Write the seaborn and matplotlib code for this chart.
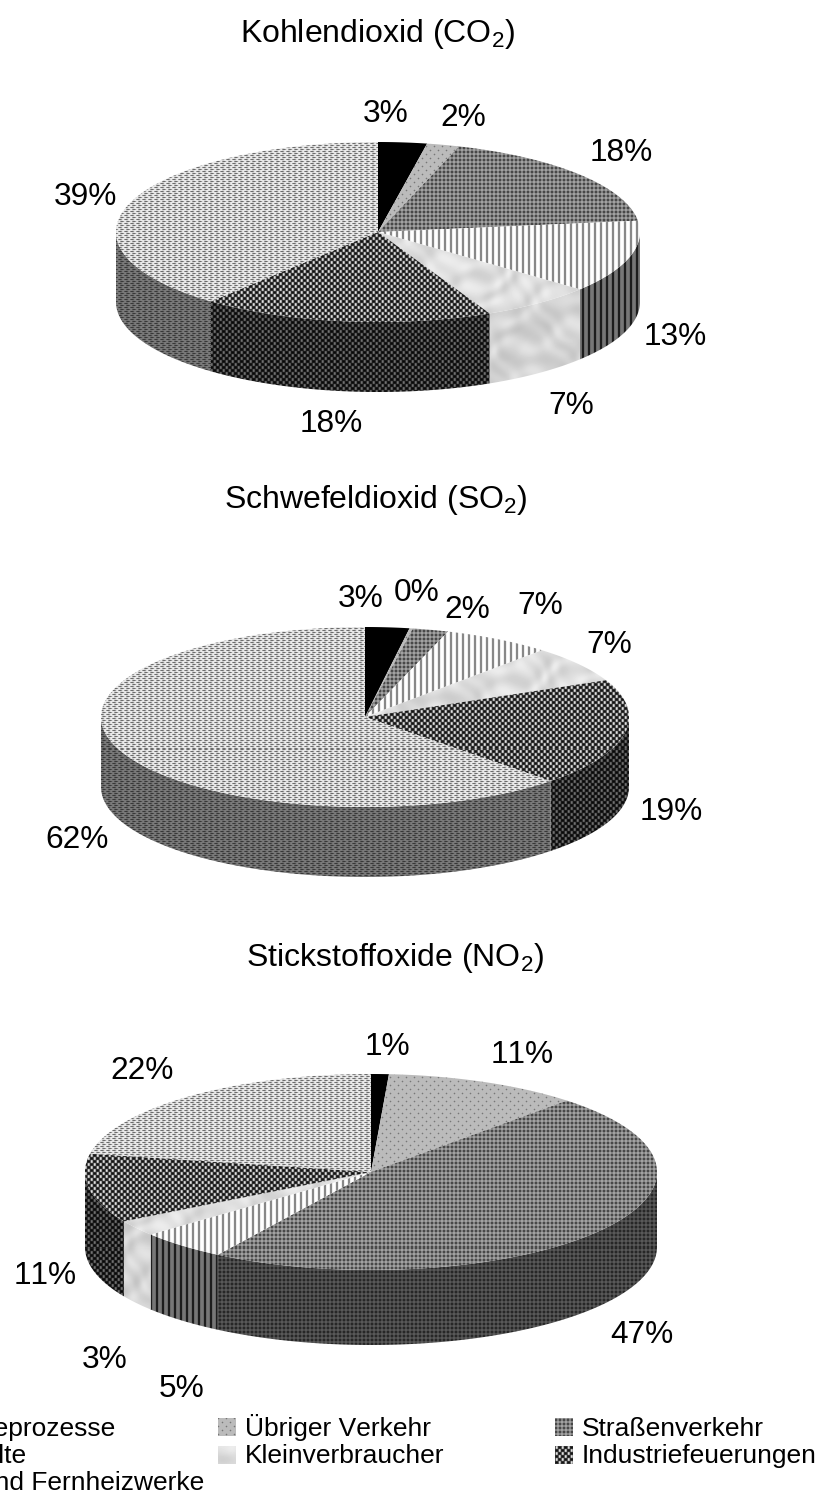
import numpy as np
import pandas as pd
import seaborn as sns
import matplotlib.pyplot as plt
from matplotlib.patches import Polygon

W, H = 823, 1497
sns.set_theme(style='white')
plt.rcParams['font.family'] = ['Liberation Sans', 'DejaVu Sans']
plt.rcParams['mathtext.default'] = 'regular'
plt.rcParams['text.kerning_factor'] = 6

sources = ['Industrieprozesse', 'Übriger Verkehr', 'Straßenverkehr', 'Haushalte',
           'Kleinverbraucher', 'Industriefeuerungen', 'Kraft- und Fernheizwerke']
gases = ['Kohlendioxid (CO$_2$)', 'Schwefeldioxid (SO$_2$)', 'Stickstoffoxide (NO$_2$)']
co2 = [3, 2, 18, 13, 7, 18, 39]
so2 = [2.7, 0.2, 2.2, 6.6, 6.6, 19.3, 62.4]
nox = [1, 11, 47, 5, 2.6, 11.4, 22]

df = pd.DataFrame({'gas': np.repeat(gases, len(sources)),
                   'source': sources * 3,
                   'share': co2 + so2 + nox})

# pixel layout of each pie: cx, cy, rx, ry, depth, title x, title y
layout = {gases[0]: (378, 232, 262, 90, 70, 378, 34),
          gases[1]: (365, 717, 264, 90, 70, 376, 500),
          gases[2]: (371, 1172, 286, 98, 75, 395, 958)}
label_xy = {gases[0]: [(386, 114), (463, 118), (621, 153), (675, 337), (571, 406), (331, 424), (85, 197)],
            gases[1]: [(361, 599), (417, 593), (467, 610), (540, 606), (609, 645), (671, 812), (77, 840)],
            gases[2]: [(387, 1047), (522, 1055), (642, 1335), (182, 1389), (105, 1360), (45, 1276), (142, 1071)]}


def tile(rows, scale=1.0):
    t = np.array([[int(c, 16) / 15 for c in r] for r in rows])
    # the source is a little soft, so average each pixel with its neighbours
    t = (4 * t + np.roll(t, 1, 0) + np.roll(t, -1, 0) + np.roll(t, 1, 1) + np.roll(t, -1, 1)) / 8
    ny = H // t.shape[0] + 1
    nx = W // t.shape[1] + 1
    return np.tile(t * scale, (ny, nx))[:H, :W]


def marble(scale=1.0):
    # soft grey veins made of a few sines
    y, x = np.mgrid[0:H, 0:W]
    warp = 14 * np.sin(x / 29 + y / 37) + 9 * np.sin(x / 13 - y / 19) + 5 * np.sin(x / 7.3 + y / 8.9)
    v = (0.87 + 0.035 * np.sin((x + 2.3 * y + 1.6 * warp) / 11) + 0.02 * np.sin((1.7 * x - y + warp) / 6.1)
         - 0.03 * np.clip(np.sin((x - 0.6 * y + 2 * warp) / 17) - 0.5, 0, 1))
    return v * scale


dash = ['FFFFFF', '6336DF', 'FFFFFF', '36DF63']
check = ['1115FB', '1115FB', '1115FB', '5FB111', '5FB111', '5FB111']
dots = ['BBBBBBBB', 'BBBBBBBB', 'BB3BBBBB', 'BBBBBBBB', 'BBBBBBBB', 'BBBBBBBB', 'BBBBBB3B', 'BBBBBBBB']
fine = ['3883', '8AA8', '8AA8', '3883']

top_tex = [tile(['0']), tile(dots), tile(fine), tile(['77FFFF']), marble(), tile(check), tile(dash)]
side_tex = [tile(['0']), tile(dots, 0.6), tile(fine, 0.55), tile(['117777']), marble(0.96),
            tile(check, 0.5), tile(dash, 0.52)]


def paint(ax, tex, pts):
    # texture is the full figure in pixels, cut out along the slice outline
    im = ax.imshow(tex, extent=(0, W, H, 0), cmap='gray', vmin=0, vmax=1,
                   aspect='auto', interpolation='nearest', zorder=2)
    im.set_clip_path(Polygon(pts, closed=True, transform=ax.transData))


def draw_pie(data, **kws):
    ax = plt.gca()
    gas = data['gas'].iloc[0]
    cx, cy, rx, ry, depth, tx, ty = layout[gas]
    row = gases.index(gas)
    band = H / 3
    shares = data['share'].to_numpy(dtype=float)
    edges = np.r_[0, np.cumsum(shares)] / shares.sum() * 2 * np.pi

    for i in range(len(shares)):
        a, b = edges[i], edges[i + 1]
        lo, hi = max(a, np.pi / 2), min(b, 1.5 * np.pi)
        if hi > lo:
            t = np.linspace(lo, hi, 80)
            rim = np.c_[cx + rx * np.sin(t), cy - ry * np.cos(t)]
            low = rim[::-1] + [0, depth]
            paint(ax, side_tex[i], np.r_[rim, low])
    for i in range(len(shares)):
        t = np.linspace(edges[i], edges[i + 1], 120)
        pts = np.r_[[[cx, cy]], np.c_[cx + rx * np.sin(t), cy - ry * np.cos(t)]]
        paint(ax, top_tex[i], pts)
    for s, (lx, ly) in zip(shares, label_xy[gas]):
        ax.text(lx, ly, f'{round(s)}%', ha='center', va='center', fontsize=22.8, color='black', zorder=5)
    ax.text(tx, ty, gas, ha='center', va='center', fontsize=23, color='black', zorder=5)
    ax.set_xlim(0, W)
    ax.set_ylim(band * (row + 1), band * row)


g = sns.FacetGrid(df, row='gas', row_order=gases, height=H / 300, aspect=W / (H / 3),
                  sharex=False, sharey=False)
g.map_dataframe(draw_pie)
g.set_titles('')
g.figure.subplots_adjust(0, 0, 1, 1, hspace=0)
for ax in g.axes.flat:
    ax.set_axis_off()
    ax.patch.set_alpha(0)

# legend, first column runs off the left edge as in the source
leg = g.axes.flat[2]
for i, name in enumerate(sources):
    col, line = i % 3, i // 3
    x0 = -119 + col * 337
    y0 = 1418 + line * 27.5
    box = [(x0, y0), (x0 + 18, y0), (x0 + 18, y0 + 18), (x0, y0 + 18)]
    if x0 > 0:
        paint(leg, top_tex[i], box)
    tx = x0 + 27 if col else -92
    leg.text(tx, 1436 + line * 27, name, ha='left', va='baseline', fontsize=19, color='black',
             zorder=5, clip_on=False)
leg.set_xlim(0, W)
leg.set_ylim(H, H * 2 / 3)

g.figure.savefig('out.png', dpi=100)
